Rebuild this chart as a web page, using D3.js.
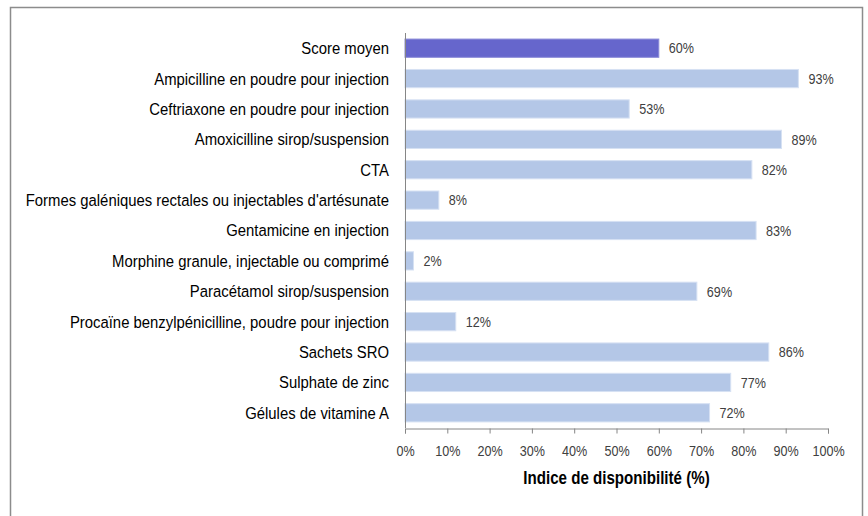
<!DOCTYPE html>
<html>
<head>
<meta charset="utf-8">
<script src="https://cdn.jsdelivr.net/npm/d3@7"></script>
<style>
  body { margin: 0; background: #fff; }
  text { font-family: "Liberation Sans", Arial, sans-serif; }
</style>
</head>
<body>
<script>
// données
const medicaments = [
  'Score moyen',
  'Ampicilline en poudre pour injection',
  'Ceftriaxone en poudre pour injection',
  'Amoxicilline sirop/suspension',
  'CTA',
  "Formes galéniques rectales ou injectables d'artésunate",
  'Gentamicine en injection',
  'Morphine granule, injectable ou comprimé',
  'Paracétamol sirop/suspension',
  'Procaïne benzylpénicilline, poudre pour injection',
  'Sachets SRO',
  'Sulphate de zinc',
  'Gélules de vitamine A'
];
const disponibilite = [60, 93, 53, 89, 82, 8, 83, 2, 69, 12, 86, 77, 72];
const graduations = [0, 10, 20, 30, 40, 50, 60, 70, 80, 90, 100];

const W = 868, H = 516;
// pas de police étroite installée : on comprime horizontalement
const etroit = 0.84;
const etroitNoms = 0.875;

const svg = d3.select('body').append('svg')
  .attr('width', W)
  .attr('height', H);

// cadre
svg.append('rect')
  .attr('x', 10.5).attr('y', 7.5)
  .attr('width', 852).attr('height', 520)
  .attr('fill', 'none')
  .attr('stroke', '#8c8c8c')
  .attr('stroke-width', 1.5);

const x = d3.scaleLinear().domain([0, 100]).range([405, 828]);
const y = d3.scaleBand().domain(medicaments).range([33, 428]).paddingInner(0.4).paddingOuter(0.2);

// barres
svg.selectAll('rect.barre')
  .data(medicaments)
  .enter()
  .append('rect')
  .attr('class', 'barre')
  .attr('x', x(0))
  .attr('y', d => y(d))
  .attr('width', (d, i) => x(disponibilite[i]) - x(0))
  .attr('height', y.bandwidth())
  .attr('fill', (d, i) => i === 0 ? '#6666cc' : '#b4c7e7')
  .attr('stroke', (d, i) => i === 0 ? '#8a8ad8' : '#d6e1f3')
  .attr('stroke-width', 1);

// valeurs
svg.selectAll('text.valeur')
  .data(medicaments)
  .enter()
  .append('text')
  .attr('class', 'valeur')
  .attr('transform', (d, i) => `translate(${x(disponibilite[i]) + 10},${y(d) + y.bandwidth() / 2}) scale(${etroit},1)`)
  .attr('dy', '0.35em')
  .attr('font-size', 15)
  .attr('fill', '#404040')
  .text((d, i) => disponibilite[i] + '%');

// étiquettes
svg.selectAll('text.nom')
  .data(medicaments)
  .enter()
  .append('text')
  .attr('class', 'nom')
  .attr('transform', d => `translate(389,${y(d) + y.bandwidth() / 2}) scale(${etroitNoms},1)`)
  .attr('dy', '0.35em')
  .attr('text-anchor', 'end')
  .attr('font-size', 17)
  .attr('fill', '#000')
  .text(d => d);

// axe vertical
svg.append('line')
  .attr('x1', x(0) + 0.5).attr('x2', x(0) + 0.5)
  .attr('y1', 33).attr('y2', 428)
  .attr('stroke', '#868686');

// axe des x
const axe = svg.append('g')
  .attr('transform', 'translate(0,428.5)')
  .call(d3.axisBottom(x).tickValues(graduations).tickSize(5).tickFormat(d => d + '%'));
axe.select('.domain').attr('stroke', '#868686');
axe.selectAll('.tick line').attr('stroke', '#868686');
axe.selectAll('.tick text')
  .attr('font-size', 15)
  .attr('fill', '#404040')
  .attr('font-family', '"Liberation Sans", Arial, sans-serif')
  .attr('y', 0)
  .attr('dy', 0)
  .attr('transform', `translate(0,27) scale(${etroit},1)`);

// titre de l'axe
svg.append('text')
  .attr('transform', `translate(${x(50)},478) scale(${etroit},1)`)
  .attr('dy', '0.35em')
  .attr('text-anchor', 'middle')
  .attr('font-size', 18)
  .attr('font-weight', 'bold')
  .attr('fill', '#000')
  .text('Indice de disponibilité (%)');
</script>
</body>
</html>
